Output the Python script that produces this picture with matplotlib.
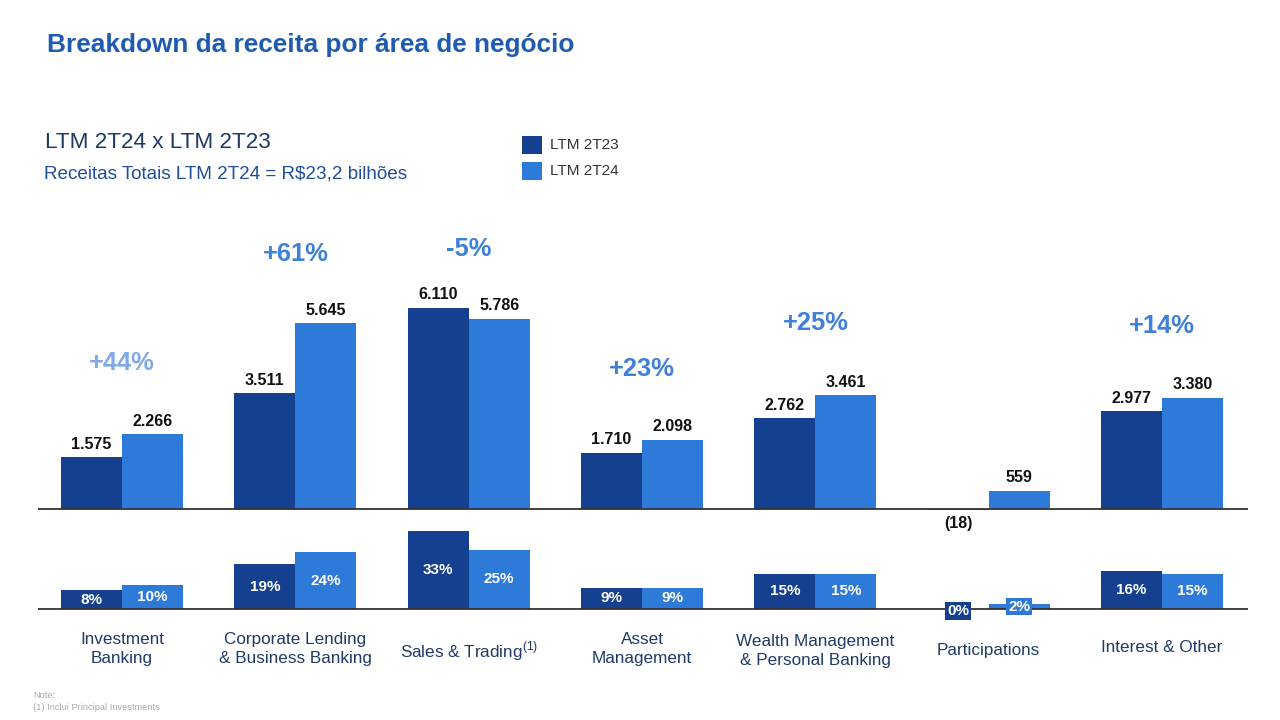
import numpy as np
import matplotlib
matplotlib.use('Agg')
import matplotlib.pyplot as plt
import matplotlib.patches as mpatches

plt.rcParams['font.family'] = ['Liberation Sans', 'DejaVu Sans']

# data
categorias = ['Investment\nBanking', 'Corporate Lending\n& Business Banking',
              'Sales & Trading$^{\\mathregular{(1)}}$', 'Asset\nManagement',
              'Wealth Management\n& Personal Banking', 'Participations', 'Interest & Other']
receita_2t23 = [1575, 3511, 6110, 1710, 2762, -18, 2977]
receita_2t24 = [2266, 5645, 5786, 2098, 3461, 559, 3380]
share_2t23 = [8, 19, 33, 9, 15, 0, 16]
share_2t24 = [10, 24, 25, 9, 15, 2, 15]
crescimento = ['+44%', '+61%', '-5%', '+23%', '+25%', '', '+14%']
cresc_y = [4450, 7750, 7900, 4250, 5650, None, 5550]

escuro = '#15408f'
claro = '#2e7ad9'

W, H = 1280, 720
fig = plt.figure(figsize=(12.8, 7.2), dpi=100)

def px_axes(left, top, right, bottom):
    return fig.add_axes([left / W, 1 - bottom / H, (right - left) / W, (bottom - top) / H])

x = np.arange(len(categorias))
bw = 0.352
xlim = (-0.485, 6.496)

# top chart: revenue
ax = px_axes(38, 230, 1248, 530)
ax.bar(x - bw / 2, receita_2t23, bw, color=escuro, linewidth=0)
ax.bar(x + bw / 2, receita_2t24, bw, color=claro, linewidth=0)
ax.axhline(0, color='#333333', lw=1.3)
ax.set_xlim(*xlim)
ax.set_ylim(-638, 8480)
ax.axis('off')

def fmt(v):
    if v < 0:
        return '({0})'.format(-v)
    return '{0:,}'.format(v).replace(',', '.')

for xs, vals in [(x - bw / 2, receita_2t23), (x + bw / 2, receita_2t24)]:
    for xi, v in zip(xs, vals):
        if v < 0:
            ax.annotate(fmt(v), (xi, 0), xytext=(0, -5), textcoords='offset points',
                        ha='center', va='top', fontsize=11.5, fontweight='bold', color='#111111')
        else:
            ax.annotate(fmt(v), (xi, v), xytext=(0, 4), textcoords='offset points',
                        ha='center', va='bottom', fontsize=11.5, fontweight='bold', color='#111111')

for i, (g, gy) in enumerate(zip(crescimento, cresc_y)):
    if not g:
        continue
    cor = '#80aae6' if i == 0 else '#3f80d8'
    ax.text(x[i], gy, g, ha='center', va='center', fontsize=18.4, fontweight='bold', color=cor)

# bottom chart: share of total
ax2 = px_axes(38, 520, 1248, 625)
ax2.bar(x - bw / 2, share_2t23, bw, color=escuro, linewidth=0)
ax2.bar(x + bw / 2, share_2t24, bw, color=claro, linewidth=0)
ax2.axhline(0, color='#333333', lw=1.3)
ax2.set_xlim(*xlim)
ax2.set_ylim(-6.8, 37.7)
ax2.axis('off')

for xs, vals, cor in [(x - bw / 2, share_2t23, escuro), (x + bw / 2, share_2t24, claro)]:
    for xi, v in zip(xs, vals):
        if v < 3:
            yy = v / 2 if v > 0 else -1.0
            ax2.text(xi, yy, '{0}%'.format(v), ha='center', va='center', fontsize=11,
                     fontweight='bold', color='white',
                     bbox=dict(boxstyle='square,pad=0.12', fc=cor, ec='none'))
        else:
            ax2.text(xi, v / 2, '{0}%'.format(v), ha='center', va='center', fontsize=11,
                     fontweight='bold', color='white')

# category labels
label_y = [649, 649, 651, 649, 651, 651, 647]
for i, c in enumerate(categorias):
    xp = (38 + (x[i] - xlim[0]) / (xlim[1] - xlim[0]) * (1248 - 38)) / W
    fig.text(xp, 1 - label_y[i] / H, c, ha='center', va='center', fontsize=12.3,
             color='#1f3a68', linespacing=1.3)

# titles
fig.text(47 / W, 1 - 45 / H, 'Breakdown da receita por área de negócio', ha='left', va='center',
         fontsize=18.9, fontweight='bold', color='#1f5bb0')
fig.text(45 / W, 1 - 142 / H, 'LTM 2T24 x LTM 2T23', ha='left', va='center', fontsize=16.2, color='#1f3864')
fig.text(44 / W, 1 - 174 / H, 'Receitas Totais LTM 2T24 = R$23,2 bilhões', ha='left', va='center',
         fontsize=13.6, color='#1f4e99')

# legend
for yy, cor, lab in [(145, escuro, 'LTM 2T23'), (171, claro, 'LTM 2T24')]:
    fig.patches.append(mpatches.Rectangle((522 / W, 1 - (yy + 8.5) / H), 20 / W, 17 / H,
                                          transform=fig.transFigure, fc=cor, ec='none'))
    fig.text(550 / W, 1 - yy / H, lab, ha='left', va='center', fontsize=11, color='#333333')

# note
fig.text(33 / W, 1 - 696 / H, 'Note:', ha='left', va='center', fontsize=6.7, color='#aaaaaa')
fig.text(33 / W, 1 - 708 / H, '(1) Inclui Principal Investments', ha='left', va='center',
         fontsize=6.7, color='#aaaaaa')

plt.savefig('out.png', dpi=100)
plt.close()
